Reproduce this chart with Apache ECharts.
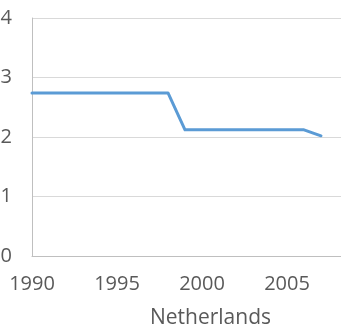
<!DOCTYPE html>
<html>
<head>
<meta charset="utf-8">
<script src="https://cdn.jsdelivr.net/npm/echarts@6/dist/echarts.min.js"></script>
<style>
  html, body { margin: 0; padding: 0; background: #fff; }
  #chart { width: 341px; height: 333px; }
</style>
</head>
<body>
<div id="chart"></div>
<script>
// Annual values for the Netherlands
const years = [1990, 1991, 1992, 1993, 1994, 1995, 1996, 1997, 1998, 1999,
               2000, 2001, 2002, 2003, 2004, 2005, 2006, 2007];
const values = [2.74, 2.74, 2.74, 2.74, 2.74, 2.74, 2.74, 2.74, 2.74, 2.12,
                2.12, 2.12, 2.12, 2.12, 2.12, 2.12, 2.12, 2.02];
const yTicks = [0, 1, 2, 3, 4];
const xTicks = [1990, 1995, 2000, 2005];
const countryName = 'Netherlands';

const textColor = '#595959';
const fontFamily = '"Open Sans", sans-serif';

const chart = echarts.init(document.getElementById('chart'), null, { renderer: 'canvas' });

chart.setOption({
  animation: false,
  backgroundColor: '#ffffff',
  // plot area runs past the right edge of the canvas (axis goes to 2011)
  grid: { left: 32, top: 18, width: 357, height: 238, containLabel: false, outerBoundsMode: 'none' },
  xAxis: {
    type: 'value',
    min: 1990,
    max: 2011,
    interval: 5,
    name: countryName,
    nameLocation: 'middle',
    nameGap: 52,
    nameTextStyle: { color: textColor, fontSize: 21, fontFamily: fontFamily },
    axisLine: { show: true, lineStyle: { color: '#BFBFBF', width: 1 } },
    axisTick: { show: false },
    splitLine: { show: false },
    axisLabel: {
      color: textColor,
      fontSize: 20,
      fontFamily: fontFamily,
      margin: 18,
      formatter: function (v) { return xTicks.indexOf(v) >= 0 ? String(v) : ''; }
    }
  },
  yAxis: {
    type: 'value',
    min: yTicks[0],
    max: yTicks[yTicks.length - 1],
    interval: 1,
    axisLine: { show: true, lineStyle: { color: '#BFBFBF', width: 1 } },
    axisTick: { show: false },
    splitLine: { show: true, lineStyle: { color: '#D9D9D9', width: 1 } },
    axisLabel: {
      color: textColor,
      fontSize: 20,
      fontFamily: fontFamily,
      margin: 20
    }
  },
  series: [{
    type: 'line',
    data: years.map(function (y, i) { return [y, values[i]]; }),
    showSymbol: false,
    symbol: 'none',
    lineStyle: { color: '#5B9BD5', width: 3, join: 'round', cap: 'round' },
    itemStyle: { color: '#5B9BD5' }
  }]
});
</script>
</body>
</html>
